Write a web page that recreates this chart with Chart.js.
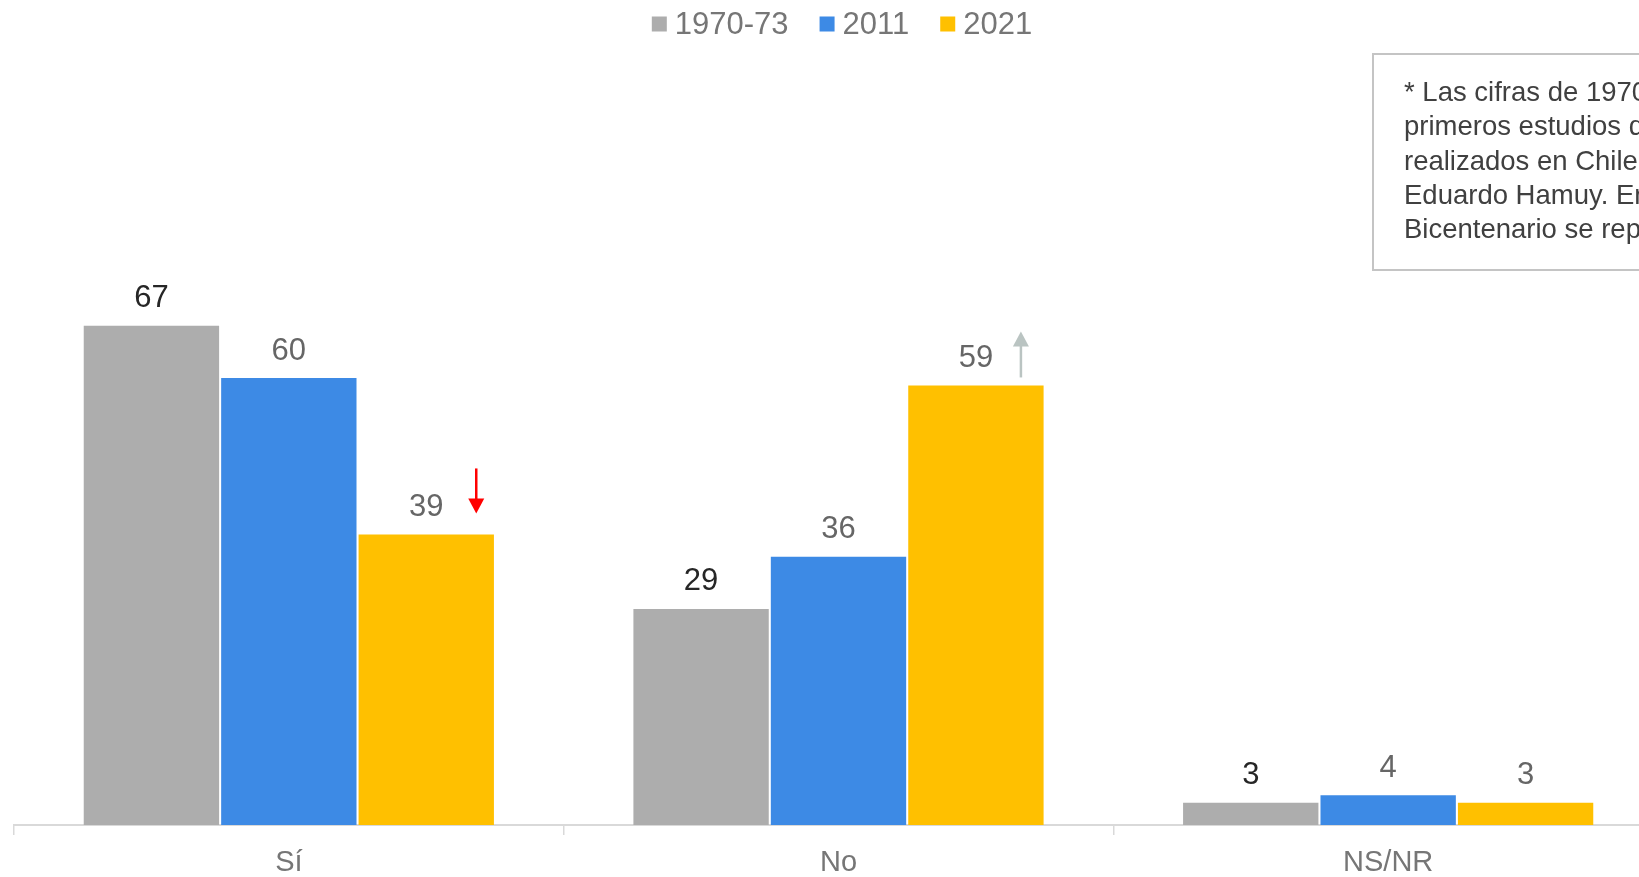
<!DOCTYPE html>
<html>
<head>
<meta charset="utf-8">
<script src="https://cdn.jsdelivr.net/npm/chart.js@4/dist/chart.umd.min.js"></script>
<style>
  html, body { margin: 0; padding: 0; overflow: hidden; background: #fff; }
  #wrap { position: relative; width: 1680px; height: 877px; }
  #nota {
    position: absolute; left: 1372px; top: 53px; width: 340px; height: 194px;
    border: 2px solid #c4c4c4; box-sizing: content-box;
    font-family: "Liberation Sans", Arial, sans-serif; font-size: 27.5px; line-height: 34.3px;
    color: #404040; padding: 20px 0 0 30px; white-space: nowrap;
  }
</style>
</head>
<body>
<div id="wrap">
  <canvas id="grafico" width="1680" height="877"></canvas>
  <div id="nota">* Las cifras de 1970-73 provienen de los<br>primeros estudios de opinión pública<br>realizados en Chile, dirigidos por<br>Eduardo Hamuy. En la Encuesta<br>Bicentenario se replicó la pregunta.</div>
</div>
<script>
// données
const categorias = ['Sí', 'No', 'NS/NR'];
const periodos = ['1970-73', '2011', '2021'];
const valores1970 = [67, 29, 3];
const valores2011 = [60, 36, 4];
const valores2021 = [39, 59, 3];
const cambios2021 = ['baja', 'sube', null]; // flèches à côté des barres 2021

const colores = ['#ADADAD', '#3D8AE5', '#FFC000'];
const coloresEtiqueta = ['#262626', '#666666', '#666666'];

/* plugin : étiquettes de valeur + flèches */
const etiquetasPlugin = {
  id: 'etiquetas',
  afterDatasetsDraw(chart) {
    const ctx = chart.ctx;
    ctx.save();
    ctx.font = '31px "Liberation Sans", Arial, sans-serif';
    ctx.textAlign = 'center';
    ctx.textBaseline = 'middle';
    chart.data.datasets.forEach((ds, i) => {
      const meta = chart.getDatasetMeta(i);
      meta.data.forEach((bar, j) => {
        ctx.fillStyle = coloresEtiqueta[i];
        ctx.fillText(ds.data[j], bar.x, bar.y - 27);
      });
    });

    // flèches de la série 2021
    const meta2021 = chart.getDatasetMeta(2);
    cambios2021.forEach((c, j) => {
      if (!c) return;
      const bar = meta2021.data[j];
      ctx.lineWidth = 2.5;
      if (c === 'baja') {
        const x = bar.x + 50;
        ctx.strokeStyle = '#FF0000';
        ctx.fillStyle = '#FF0000';
        const y0 = bar.y - 66, y1 = bar.y - 21;
        ctx.beginPath(); ctx.moveTo(x, y0); ctx.lineTo(x, y1 - 12); ctx.stroke();
        ctx.beginPath(); ctx.moveTo(x - 8, y1 - 15); ctx.lineTo(x + 8, y1 - 15); ctx.lineTo(x, y1); ctx.closePath(); ctx.fill();
      } else {
        const x = bar.x + 45;
        ctx.strokeStyle = '#BAC4C2';
        ctx.fillStyle = '#BAC4C2';
        const y0 = bar.y - 8, y1 = bar.y - 54;
        ctx.beginPath(); ctx.moveTo(x, y0); ctx.lineTo(x, y1 + 12); ctx.stroke();
        ctx.beginPath(); ctx.moveTo(x - 8, y1 + 15); ctx.lineTo(x + 8, y1 + 15); ctx.lineTo(x, y1); ctx.closePath(); ctx.fill();
      }
    });
    ctx.restore();
  }
};

/* plugin : légende dessinée à la main (carré petit, centré) */
const leyendaPlugin = {
  id: 'leyenda',
  afterDraw(chart) {
    const ctx = chart.ctx;
    ctx.save();
    ctx.font = '31px "Liberation Sans", Arial, sans-serif';
    ctx.textBaseline = 'middle';
    ctx.textAlign = 'left';
    const caja = 15, hueco = 8, sep = 31;
    let total = 0;
    const anchos = chart.data.datasets.map(ds => ctx.measureText(ds.label).width);
    anchos.forEach(w => total += caja + hueco + w);
    total += sep * (anchos.length - 1);
    let x = 842 - total / 2;
    const y = 24;
    chart.data.datasets.forEach((ds, i) => {
      ctx.fillStyle = ds.backgroundColor;
      ctx.fillRect(x, y - caja / 2, caja, caja);
      x += caja + hueco;
      ctx.fillStyle = '#767676';
      ctx.fillText(ds.label, x, y + 1);
      x += anchos[i] + sep;
    });
    ctx.restore();
  }
};

const ctx = document.getElementById('grafico').getContext('2d');

const chart = new Chart(ctx, {
  type: 'bar',
  data: {
    labels: categorias,
    datasets: [
      { label: periodos[0], data: valores1970, backgroundColor: colores[0] },
      { label: periodos[1], data: valores2011, backgroundColor: colores[1] },
      { label: periodos[2], data: valores2021, backgroundColor: colores[2] }
    ]
  },
  options: {
    responsive: false,
    animation: false,
    categoryPercentage: 0.75,
    barPercentage: 0.985,
    layout: { padding: { top: 80, left: 14, right: 17, bottom: -13 } },
    plugins: {
      legend: { display: false },
      tooltip: { enabled: false }
    },
    scales: {
      y: { display: false, min: 0, max: 100 },
      x: {
        grid: { drawOnChartArea: false, drawTicks: true, tickLength: 10, color: '#D9D9D9', lineWidth: 1.5 },
        border: { color: '#D9D9D9', width: 2 },
        ticks: {
          color: '#767676',
          padding: 13,
          font: { family: '"Liberation Sans", Arial, sans-serif', size: 29, lineHeight: 1 }
        }
      }
    }
  },
  plugins: [etiquetasPlugin, leyendaPlugin]
});
</script>
</body>
</html>
